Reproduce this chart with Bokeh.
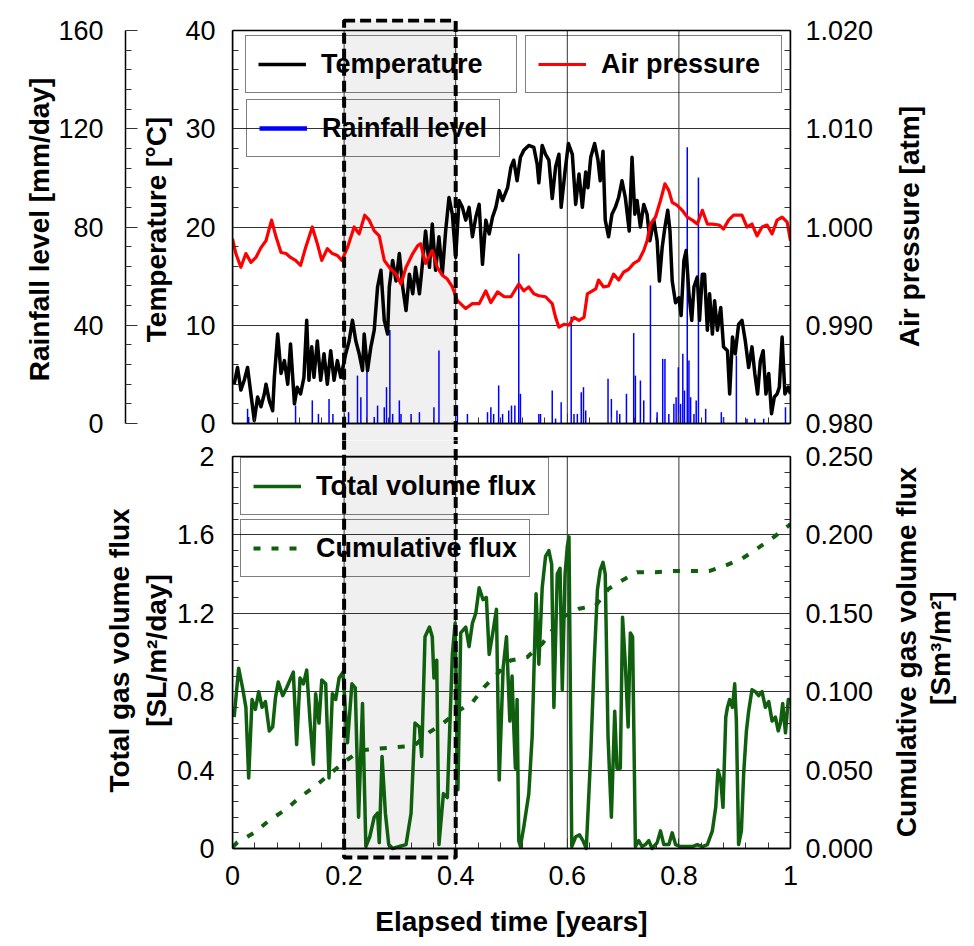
import math
import numpy as np
from bokeh.plotting import figure
from bokeh.models import (Range1d, LinearAxis, FixedTicker, PrintfTickFormatter,
                          CustomJSTickFormatter, Legend, LegendItem, BoxAnnotation)
from bokeh.layouts import column
from bokeh.embed import file_html
from bokeh.resources import INLINE

FONT = "Liberation Sans"
GREEN = "#0f5f0f"

# ---------------- data ----------------
temp_t = [0.003, 0.009, 0.015, 0.021, 0.027, 0.033, 0.039, 0.045, 0.051, 0.057, 0.060, 0.066, 0.072, 0.075,
          0.081, 0.087, 0.093, 0.099, 0.104, 0.111, 0.116, 0.122, 0.128, 0.133, 0.137, 0.142, 0.146, 0.152,
          0.158, 0.164, 0.170, 0.176, 0.182, 0.188, 0.194, 0.203, 0.209, 0.215, 0.221, 0.227, 0.233, 0.236,
          0.242, 0.248, 0.254, 0.260, 0.266, 0.272, 0.278, 0.281, 0.287, 0.293, 0.299, 0.305, 0.311, 0.317,
          0.323, 0.328, 0.335, 0.341, 0.346, 0.353, 0.358, 0.364, 0.370, 0.376, 0.382, 0.388, 0.394, 0.400,
          0.406, 0.412, 0.418, 0.424, 0.430, 0.436, 0.442, 0.448, 0.454, 0.460, 0.466, 0.472, 0.478, 0.484,
          0.493, 0.499, 0.504, 0.510, 0.516, 0.522, 0.531, 0.540, 0.546, 0.549, 0.555, 0.561, 0.567, 0.573,
          0.579, 0.585, 0.589, 0.596, 0.602, 0.609, 0.615, 0.621, 0.627, 0.633, 0.637, 0.642, 0.649, 0.655,
          0.659, 0.664, 0.668, 0.674, 0.680, 0.686, 0.692, 0.698, 0.704, 0.711, 0.716, 0.721, 0.725, 0.731,
          0.737, 0.743, 0.748, 0.755, 0.761, 0.765, 0.770, 0.775, 0.780, 0.784, 0.788, 0.794, 0.800, 0.804,
          0.809, 0.813, 0.818, 0.823, 0.827, 0.833, 0.837, 0.842, 0.846, 0.851, 0.855, 0.860, 0.864, 0.869,
          0.875, 0.880, 0.887, 0.891, 0.896, 0.901, 0.907, 0.913, 0.919, 0.925, 0.931, 0.936, 0.941, 0.946,
          0.951, 0.956, 0.961, 0.966, 0.971, 0.976, 0.980, 0.985, 0.990, 0.996, 1.000]
temp_c = [4.0, 5.7, 3.4, 4.4, 5.7, 3.0, 0.3, 2.7, 1.7, 3.0, 4.0, 2.3, 1.3, 4.7,
          9.1, 5.1, 6.4, 4.0, 8.1, 2.0, 3.7, 3.0, 4.7, 10.5, 4.4, 7.8, 4.7, 8.4,
          4.4, 7.1, 4.0, 7.4, 4.4, 6.4, 4.7, 7.1, 8.4, 10.5, 8.4, 7.1, 5.4, 9.1,
          5.4, 7.8, 9.5, 13.9, 15.6, 10.5, 9.1, 13.9, 16.6, 14.5, 17.3, 13.9, 11.5, 15.2,
          13.2, 15.9, 13.2, 16.6, 19.6, 15.9, 20.3, 15.6, 19.0, 15.2, 19.6, 23.0, 21.3, 16.9,
          22.7, 22.0, 20.7, 22.0, 19.0, 21.0, 22.3, 16.2, 20.7, 19.3, 21.0, 22.0, 23.7, 22.7,
          24.0, 26.1, 26.8, 24.7, 27.1, 27.8, 28.3, 28.1, 26.4, 24.5, 28.3, 27.4, 26.8, 22.9,
          26.1, 27.4, 22.0, 25.7, 28.5, 27.4, 22.3, 25.4, 22.0, 25.6, 24.0, 27.1, 28.5, 26.8,
          24.7, 27.7, 20.7, 19.0, 21.3, 22.0, 23.0, 24.7, 23.0, 19.6, 27.1, 21.3, 22.7, 20.0,
          22.3, 21.3, 18.6, 20.7, 18.6, 14.5, 17.9, 20.0, 21.7, 19.6, 14.5, 12.3, 12.8, 11.0,
          16.6, 17.6, 13.2, 10.5, 13.9, 14.9, 10.5, 15.2, 15.2, 9.5, 13.2, 9.1, 12.5, 9.5,
          11.8, 7.8, 7.4, 3.0, 8.8, 7.1, 10.1, 10.5, 8.4, 5.7, 7.8, 5.1, 3.0, 6.4,
          7.4, 3.0, 5.1, 1.0, 2.7, 3.0, 3.7, 8.8, 3.0, 3.7, 3.0]

pres_t = [0.000, 0.006, 0.015, 0.024, 0.033, 0.042, 0.051, 0.060, 0.070, 0.078, 0.087, 0.096, 0.104, 0.113,
          0.122, 0.131, 0.143, 0.152, 0.160, 0.170, 0.179, 0.188, 0.196, 0.206, 0.218, 0.227, 0.237, 0.245,
          0.254, 0.263, 0.272, 0.281, 0.293, 0.302, 0.311, 0.323, 0.332, 0.337, 0.346, 0.358, 0.367, 0.376,
          0.385, 0.394, 0.403, 0.418, 0.430, 0.442, 0.454, 0.463, 0.475, 0.487, 0.499, 0.513, 0.522, 0.531,
          0.540, 0.549, 0.561, 0.573, 0.579, 0.585, 0.594, 0.603, 0.612, 0.621, 0.630, 0.636, 0.645, 0.651,
          0.656, 0.665, 0.674, 0.683, 0.692, 0.701, 0.710, 0.719, 0.728, 0.737, 0.743, 0.749, 0.758, 0.767,
          0.775, 0.782, 0.788, 0.797, 0.806, 0.815, 0.824, 0.833, 0.842, 0.851, 0.860, 0.872, 0.880, 0.889,
          0.898, 0.913, 0.922, 0.931, 0.940, 0.949, 0.958, 0.967, 0.976, 0.985, 0.994, 1.000]
pres_atm = [0.9988, 0.9973, 0.9959, 0.9973, 0.9964, 0.9969, 0.9979, 0.9986, 1.0007, 0.9990, 0.9974, 0.9973,
            0.9969, 0.9966, 0.9961, 0.9979, 1.0000, 0.9983, 0.9966, 0.9978, 0.9973, 0.9971, 0.9966, 0.9979,
            1.0000, 0.9993, 1.0012, 1.0007, 0.9996, 0.9991, 0.9966, 0.9959, 0.9952, 0.9942, 0.9959, 0.9973,
            0.9981, 0.9983, 0.9963, 0.9976, 0.9959, 0.9951, 0.9947, 0.9939, 0.9925, 0.9917, 0.9922, 0.9922,
            0.9935, 0.9923, 0.9934, 0.9929, 0.9929, 0.9942, 0.9935, 0.9939, 0.9932, 0.9930, 0.9929, 0.9922,
            0.9908, 0.9898, 0.9901, 0.9900, 0.9908, 0.9905, 0.9908, 0.9932, 0.9935, 0.9937, 0.9946, 0.9939,
            0.9940, 0.9952, 0.9946, 0.9954, 0.9957, 0.9963, 0.9966, 0.9976, 0.9986, 1.0003, 1.0010, 1.0027,
            1.0044, 1.0037, 1.0025, 1.0022, 1.0017, 1.0010, 1.0007, 1.0003, 1.0017, 1.0003, 1.0003, 1.0002,
            0.9998, 1.0007, 1.0012, 1.0012, 1.0000, 1.0003, 0.9991, 1.0000, 1.0002, 0.9993, 1.0007, 1.0010,
            1.0005, 0.9986]

rain_t = [0.027, 0.029, 0.113, 0.143, 0.154, 0.173, 0.180, 0.208, 0.224, 0.230, 0.241, 0.254, 0.260, 0.272,
          0.276, 0.282, 0.287, 0.299, 0.302, 0.320, 0.335, 0.361, 0.370, 0.403, 0.421, 0.457, 0.463, 0.468,
          0.477, 0.484, 0.495, 0.500, 0.506, 0.513, 0.516, 0.549, 0.552, 0.573, 0.579, 0.589, 0.607, 0.612,
          0.618, 0.625, 0.629, 0.633, 0.673, 0.679, 0.689, 0.694, 0.706, 0.719, 0.722, 0.731, 0.737, 0.749,
          0.761, 0.771, 0.775, 0.782, 0.791, 0.795, 0.799, 0.803, 0.807, 0.810, 0.815, 0.818, 0.821, 0.827,
          0.831, 0.835, 0.848, 0.876, 0.880, 0.903, 0.922, 0.936, 0.952, 0.991]
rain_mm = [6.0, 2.6, 7.3, 9.4, 3.9, 10.0, 3.9, 4.6, 19.5, 10.7, 27.7, 2.6, 7.3, 6.6,
           14.8, 38.1, 3.9, 9.4, 3.9, 3.9, 4.6, 6.6, 29.7, 7.3, 3.9, 4.6, 6.6, 3.9,
           15.5, 3.9, 5.3, 7.3, 7.3, 69.1, 12.1, 3.9, 3.9, 13.4, 2.0, 8.7, 43.5, 3.9,
           3.9, 12.7, 14.8, 5.3, 18.2, 10.0, 5.3, 3.9, 12.1, 36.8, 19.5, 17.5, 9.4, 56.2,
           4.6, 26.3, 26.3, 3.9, 8.0, 10.7, 22.9, 8.0, 28.4, 13.4, 112.5, 25.6, 10.7, 3.9,
           9.4, 100.2, 6.0, 4.6, 2.6, 27.7, 1.9, 1.9, 1.9, 6.6]

flux_t = [0.003, 0.011, 0.018, 0.024, 0.029, 0.035, 0.041, 0.047, 0.053, 0.059, 0.066, 0.072, 0.077, 0.082,
          0.090, 0.097, 0.103, 0.109, 0.115, 0.121, 0.127, 0.133, 0.139, 0.145, 0.149, 0.155, 0.160, 0.167,
          0.173, 0.179, 0.185, 0.191, 0.198, 0.206, 0.214, 0.220, 0.226, 0.233, 0.239, 0.246, 0.254, 0.260,
          0.263, 0.268, 0.274, 0.280, 0.287, 0.299, 0.311, 0.320, 0.327, 0.335, 0.339, 0.345, 0.353, 0.358,
          0.361, 0.366, 0.370, 0.378, 0.385, 0.394, 0.399, 0.404, 0.409, 0.418, 0.424, 0.430, 0.436, 0.442,
          0.449, 0.455, 0.460, 0.467, 0.473, 0.478, 0.485, 0.491, 0.497, 0.501, 0.504, 0.507, 0.510, 0.513,
          0.516, 0.522, 0.531, 0.537, 0.544, 0.549, 0.555, 0.561, 0.567, 0.572, 0.576, 0.582, 0.587, 0.591,
          0.596, 0.600, 0.603, 0.608, 0.615, 0.622, 0.628, 0.634, 0.642, 0.648, 0.654, 0.659, 0.664, 0.668,
          0.673, 0.679, 0.685, 0.689, 0.695, 0.699, 0.704, 0.709, 0.713, 0.717, 0.722, 0.728, 0.734, 0.740,
          0.746, 0.752, 0.761, 0.767, 0.773, 0.782, 0.788, 0.794, 0.803, 0.824, 0.833, 0.842, 0.851, 0.860,
          0.866, 0.870, 0.875, 0.879, 0.884, 0.887, 0.891, 0.896, 0.900, 0.903, 0.907, 0.912, 0.916, 0.921,
          0.925, 0.931, 0.937, 0.943, 0.949, 0.955, 0.961, 0.967, 0.973, 0.978, 0.982, 0.986, 0.991, 0.996,
          1.000]
flux_v = [0.67, 0.92, 0.82, 0.72, 0.36, 0.76, 0.71, 0.80, 0.72, 0.75, 0.60, 0.62, 0.77, 0.85,
          0.78, 0.82, 0.86, 0.90, 0.53, 0.87, 0.84, 0.91, 0.65, 0.43, 0.79, 0.64, 0.86, 0.84,
          0.36, 0.79, 0.76, 0.87, 0.90, 0.54, 0.84, 0.82, 0.16, 0.74, 0.01, 0.06, 0.16, 0.18,
          0.03, 0.47, 0.18, 0.02, 0.00, 0.01, 0.02, 0.18, 0.64, 0.62, 0.47, 1.08, 1.13, 1.08,
          0.87, 0.96, 0.02, 0.28, 0.26, 0.99, 1.15, 0.30, 1.10, 1.13, 1.03, 1.15, 1.20, 1.33,
          1.27, 1.28, 0.99, 1.11, 1.22, 0.35, 0.92, 1.08, 0.65, 0.88, 0.62, 0.41, 0.76, 0.04,
          0.01, 0.11, 0.28, 0.57, 1.30, 0.94, 1.33, 1.49, 1.52, 1.45, 0.72, 1.40, 1.43, 0.81,
          1.40, 1.54, 1.59, 0.01, 0.06, 0.07, 0.04, 0.00, 0.48, 0.94, 1.32, 1.42, 1.46, 1.40,
          0.57, 0.16, 0.70, 0.41, 0.41, 1.18, 0.94, 0.62, 1.10, 1.08, 0.01, 0.04, 0.01, 0.02,
          0.04, 0.00, 0.03, 0.09, 0.02, 0.02, 0.08, 0.02, 0.01, 0.01, 0.02, 0.01, 0.02, 0.09,
          0.21, 0.40, 0.35, 0.21, 0.67, 0.72, 0.76, 0.72, 0.84, 0.65, 0.02, 0.09, 0.38, 0.60,
          0.70, 0.81, 0.80, 0.78, 0.80, 0.72, 0.75, 0.65, 0.67, 0.60, 0.64, 0.74, 0.59, 0.76,
          0.76]

cum_t = [0.000, 0.009, 0.039, 0.066, 0.096, 0.122, 0.149, 0.176, 0.203, 0.230, 0.257, 0.293, 0.326, 0.353,
         0.376, 0.406, 0.430, 0.451, 0.498, 0.528, 0.555, 0.591, 0.621, 0.651, 0.674, 0.698, 0.725, 0.758,
         0.791, 0.821, 0.854, 0.884, 0.913, 0.940, 0.970, 0.997, 1.000]
cum_v = [0.001, 0.004, 0.010, 0.018, 0.025, 0.033, 0.040, 0.048, 0.056, 0.0625, 0.0636, 0.0646, 0.0657, 0.0742,
         0.0795, 0.0880, 0.0933, 0.1029, 0.1199, 0.1220, 0.1306, 0.1475, 0.1529, 0.1550, 0.1656, 0.1709, 0.1762,
         0.1762, 0.1769, 0.1769, 0.1769, 0.1805, 0.1848, 0.1912, 0.1986, 0.2060, 0.2070]

highlight = (0.2, 0.4)   # shaded period [years]

x_ticks = [0, 0.2, 0.4, 0.6, 0.8, 1.0]
temp_ticks = [0, 10, 20, 30, 40]
rain_ticks = [0, 40, 80, 120, 160]
pres_ticks = [0.98, 0.99, 1.00, 1.01, 1.02]
flux_ticks = [0, 0.4, 0.8, 1.2, 1.6, 2.0]
cum_ticks = [0, 0.05, 0.10, 0.15, 0.20, 0.25]

# ---------------- layout geometry (pixels) ----------------
W = 974
FL, FR = 232, 183                  # left / right borders around the panels
TOP_H, TOP_PANEL = 440, 393        # top canvas height, panel height
TOP_ABOVE, TOP_BELOW = 12, 17      # frame extends this far above / below the panel
BOT_H, BOT_PANEL = 506, 392
BOT_ABOVE, BOT_BELOW = 16, 12
BOX_OVER_TOP, BOX_OVER_BOT = 10, 9  # dashed box overhang beyond the panels
TITLE_PX = 28
NBSP_W = 0.278 * TITLE_PX          # width of a (no-break) space in the bold title font
BOLD_EM = {"Air pressure [atm]": 8.613, "Cumulative gas volume flux": 13.226, "[Sm³/m²]": 4.055}


def minors(ticks, n=5):
    out = []
    for a, b in zip(ticks[:-1], ticks[1:]):
        out += list(np.linspace(a, b, n + 1)[1:-1])
    return out


def ext_range(lo, hi, panel_px, above_px, below_px):
    per = (hi - lo) / panel_px
    return Range1d(lo - below_px * per, hi + above_px * per)


trim = CustomJSTickFormatter(code="return Number(tick.toFixed(3)).toString();")
blank = CustomJSTickFormatter(code="return '';")


def style_axis(ax, label_standoff, title_standoff):
    ax.major_label_text_font = FONT
    ax.major_label_text_font_size = "27px"
    ax.major_label_text_color = "black"
    ax.axis_label_text_font = FONT
    ax.axis_label_text_font_size = f"{TITLE_PX}px"
    ax.axis_label_text_font_style = "bold"
    ax.axis_label_text_color = "black"
    ax.major_tick_in = 10
    ax.major_tick_out = 0
    ax.minor_tick_in = 6
    ax.minor_tick_out = 0
    ax.axis_line_color = "black"
    ax.axis_line_width = 1.5
    ax.major_tick_line_color = "#333333"
    ax.minor_tick_line_color = "#333333"
    ax.major_label_standoff = label_standoff
    ax.axis_label_standoff = title_standoff


def right_title(p, text, range_name, centre_above_frame_bottom, standoff):
    """Right-hand title reading bottom-to-top, centred `centre_above_frame_bottom` px above frame bottom."""
    ax = LinearAxis(y_range_name=range_name, ticker=FixedTicker(ticks=[], minor_ticks=[]),
                    formatter=blank)
    style_axis(ax, 0, standoff)
    ax.axis_line_color = None
    ax.major_tick_in = 0
    ax.minor_tick_in = 0
    ax.major_tick_line_color = None
    ax.minor_tick_line_color = None
    try:
        ax.axis_label_align = "start"
        ax.axis_label_orientation = math.pi / 2
        half = BOLD_EM[text] * TITLE_PX / 2
        pad = max(0, round((centre_above_frame_bottom - half) / NBSP_W))
        ax.axis_label = "\u00a0" * pad + text
    except Exception:
        ax.axis_label = text
    p.add_layout(ax, "right")


def decorate(p, lo, hi, box_lo, box_hi):
    hl, hr = highlight
    # grey shading of the highlighted period (below grid and data)
    p.add_layout(BoxAnnotation(left=hl, right=hr, bottom=box_lo, top=box_hi, fill_color="#f0f0f0",
                               fill_alpha=1, line_alpha=0, level="image"))
    # vertical grid lines restricted to the panel
    inner = x_ticks[1:-1]
    p.segment(x0=inner, y0=lo, x1=inner, y1=hi, line_color="#333333", line_width=1)
    # panel outline
    p.add_layout(BoxAnnotation(left=0, right=1, bottom=lo, top=hi, fill_alpha=0, line_color="black",
                               line_alpha=1, line_width=1.5, level="annotation"))
    # dashed outline of the highlighted period, on top of everything
    p.add_layout(BoxAnnotation(left=hl, right=hr, bottom=box_lo, top=box_hi, fill_alpha=0,
                               line_color="black", line_alpha=1, line_width=4, line_dash="11 5",
                               level="overlay"))


def add_legend(p, label, renderer, x, y, label_width=0):
    lg = Legend(items=[LegendItem(label=label, renderers=[renderer])], location=(x, y),
                border_line_color="black", border_line_width=1.5, background_fill_alpha=0,
                padding=12, margin=0, spacing=0, label_standoff=15, glyph_width=48, glyph_height=32,
                label_height=32, label_width=label_width, label_text_font=FONT,
                label_text_font_style="bold", label_text_font_size="27px", label_text_color="black")
    p.add_layout(lg)


def tick_axis(ticker):
    ax = LinearAxis(ticker=ticker, formatter=blank)
    style_axis(ax, 0, 0)
    ax.fixed_location = 0
    return ax


common = dict(output_backend="svg", toolbar_location=None, x_range=Range1d(0, 1), width=W,
              min_border_left=FL, min_border_right=FR, background_fill_color="white",
              border_fill_color="white", outline_line_color=None)

# ---------------- top panel ----------------
top = figure(height=TOP_H, y_range=ext_range(0, 40, TOP_PANEL, TOP_ABOVE, TOP_BELOW),
             min_border_top=TOP_H - TOP_PANEL - TOP_ABOVE - TOP_BELOW, min_border_bottom=0,
             x_axis_location=None, **common)
top.extra_y_ranges = {"rain": ext_range(0, 160, TOP_PANEL, TOP_ABOVE, TOP_BELOW),
                      "pres": ext_range(0.98, 1.02, TOP_PANEL, TOP_ABOVE, TOP_BELOW)}

t_per = 40 / TOP_PANEL
decorate(top, 0, 40, -40, 40 + BOX_OVER_TOP * t_per)

xt = FixedTicker(ticks=x_ticks, minor_ticks=minors(x_ticks))
tt = FixedTicker(ticks=temp_ticks, minor_ticks=minors(temp_ticks))
top.xgrid.visible = False
top.yaxis.ticker = tt
top.ygrid.ticker = tt
top.ygrid.grid_line_color = "#333333"
top.ygrid.grid_line_width = 1

top.add_layout(tick_axis(xt), "below")

tax = top.yaxis[0]
style_axis(tax, 17, 10)
tax.bounds = (0, 40)
tax.axis_label = "Temperature [°C]"

spacer = LinearAxis(ticker=FixedTicker(ticks=[20], minor_ticks=[]), formatter=blank, axis_line_color=None,
                    major_tick_out=13, major_tick_in=0, minor_tick_out=0, minor_tick_in=0,
                    major_tick_line_color=None, minor_tick_line_color=None, major_label_standoff=0)
top.add_layout(spacer, "left")

rax = LinearAxis(y_range_name="rain", ticker=FixedTicker(ticks=rain_ticks, minor_ticks=minors(rain_ticks)),
                 axis_label="Rainfall level [mm/day]", bounds=(0, 160))
style_axis(rax, 22, 0)
rax.major_tick_in = 12
top.add_layout(rax, "left")

pax = LinearAxis(y_range_name="pres", ticker=FixedTicker(ticks=pres_ticks, minor_ticks=minors(pres_ticks)),
                 formatter=PrintfTickFormatter(format="%.3f"), bounds=(0.98, 1.02))
style_axis(pax, 15, 0)
top.add_layout(pax, "right")
right_title(top, "Air pressure [atm]", "pres", 212, 33)

r_rain = top.segment(x0=rain_t, y0=0, x1=rain_t, y1=rain_mm, line_color="#0000ff", line_width=1.5,
                     y_range_name="rain")
r_temp = top.line(temp_t, temp_c, line_color="black", line_width=3.5, line_join="round")
r_pres = top.line(pres_t, pres_atm, line_color="#ff0000", line_width=3.2, line_join="round",
                  y_range_name="pres")
# legend key for the rainfall bars (a single point: draws nothing in the plot)
r_rain_key = top.line(x=rain_t[:1], y=[0], line_color="#0000ff", line_width=4.5, y_range_name="rain")

add_legend(top, "Temperature", r_temp, 13, 347, 183)
add_legend(top, "Air pressure", r_pres, 293, 347, 168)
add_legend(top, "Rainfall level", r_rain_key, 14, 283)

# ---------------- bottom panel ----------------
bot = figure(height=BOT_H, y_range=ext_range(0, 2, BOT_PANEL, BOT_ABOVE, BOT_BELOW),
             min_border_top=0, min_border_bottom=BOT_H - BOT_PANEL - BOT_ABOVE - BOT_BELOW, **common)
bot.extra_y_ranges = {"cum": ext_range(0, 0.25, BOT_PANEL, BOT_ABOVE, BOT_BELOW)}

f_per = 2 / BOT_PANEL
decorate(bot, 0, 2, -BOX_OVER_BOT * f_per, 4)

xt2 = FixedTicker(ticks=x_ticks, minor_ticks=minors(x_ticks))
ft = FixedTicker(ticks=flux_ticks, minor_ticks=minors(flux_ticks))
bot.xgrid.visible = False
bot.yaxis.ticker = ft
bot.ygrid.ticker = ft
bot.ygrid.grid_line_color = "#333333"
bot.ygrid.grid_line_width = 1

# tick labels and title (normal axis at the bottom of the frame, no line / ticks)
bx = bot.xaxis[0]
bx.ticker = FixedTicker(ticks=x_ticks, minor_ticks=[])
style_axis(bx, 5, 18)
bx.formatter = trim
bx.axis_line_color = None
bx.major_tick_in = 0
bx.minor_tick_in = 0
bx.axis_label = "Elapsed time [years]"
# ticks on the panel's bottom edge
bot.add_layout(tick_axis(xt2), "below")

fax = bot.yaxis[0]
style_axis(fax, 18, 2)
fax.formatter = trim
fax.bounds = (0, 2)
fax.axis_label = "Total gas volume flux\n[SL/m²/day]"

cax = LinearAxis(y_range_name="cum", ticker=FixedTicker(ticks=cum_ticks, minor_ticks=minors(cum_ticks)),
                 formatter=PrintfTickFormatter(format="%.3f"), bounds=(0, 0.25))
style_axis(cax, 15, 0)
bot.add_layout(cax, "right")
right_title(bot, "Cumulative gas volume flux", "cum", 209, 30)
right_title(bot, "[Sm³/m²]", "cum", 210, 0)

r_cum = bot.line(cum_t, cum_v, line_color=GREEN, line_width=4, line_dash="7 11", y_range_name="cum")
r_flux = bot.line(flux_t, flux_v, line_color=GREEN, line_width=3.5, line_join="round")

add_legend(bot, "Total volume flux", r_flux, 8, 345)
add_legend(bot, "Cumulative flux", r_cum, 8, 283)

layout = column(top, bot, spacing=0)
open("out.html", "w").write(file_html(layout, INLINE))
